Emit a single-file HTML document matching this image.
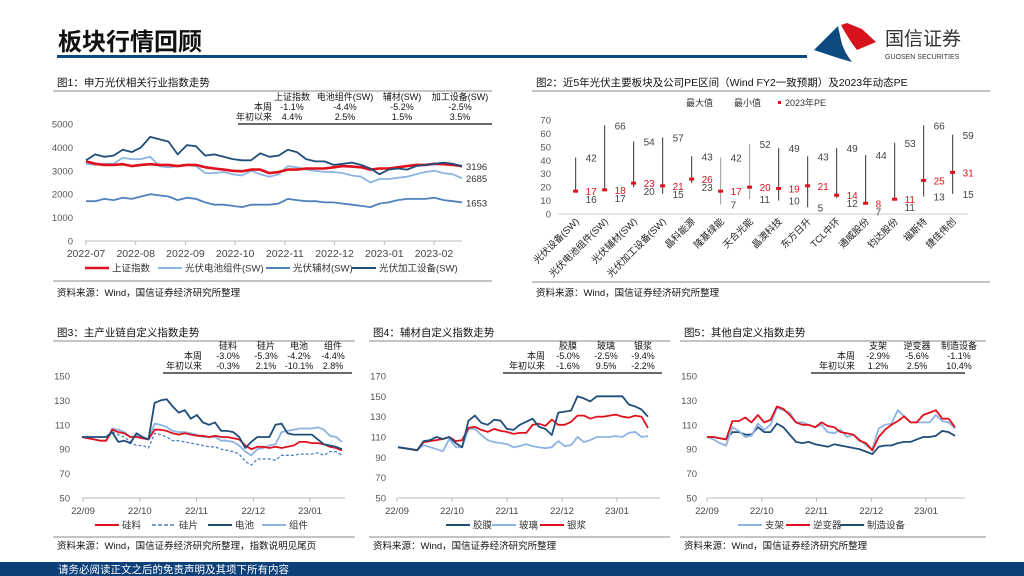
<!DOCTYPE html>
<html><head><meta charset="utf-8">
<style>
html,body{margin:0;padding:0;background:#fff;}
svg{display:block;font-family:"Liberation Sans","Noto Sans CJK SC",sans-serif;}
</style></head>
<body>
<svg id="s" width="1024" height="576" viewBox="0 0 1024 576" xmlns="http://www.w3.org/2000/svg">
<g>
<text x="58" y="50" font-size="24" font-weight="bold" fill="#111">板块行情回顾</text>
<rect x="57" y="55" width="750" height="3" fill="#0a4a7f"/>
<g>
<path d="M814,50 L838,26 Q840,36 842,44 Q845,53 852,62 L838,58 Z" fill="#0d4a80"/>
<path d="M841,25 L847,23 L862,29 L876,42 L857,50 Q849,40 841,25 Z" fill="#d7141d"/>
<text x="885" y="45" font-size="19" fill="#333">国信证券</text>
<text x="885" y="59" font-size="7" fill="#333">GUOSEN SECURITIES</text>
</g>
</g>
<rect x="0" y="562" width="1024" height="14" fill="#0d3f78"/>
<text x="58" y="573" font-size="10.5" fill="#fff">请务必阅读正文之后的免责声明及其项下所有内容</text>
</svg>
<script>
// ---- Chart 1 data ----
const c1Ticks=[0,1000,2000,3000,4000,5000];
const c1Months=['2022-07','2022-08','2022-09','2022-10','2022-11','2022-12','2023-01','2023-02'];
const c1SH=[3400,3300,3250,3250,3280,3200,3250,3280,3250,3250,3200,3250,3250,3150,3100,3050,3000,2980,3050,3050,2900,2950,3050,3050,3100,3100,3100,3150,3200,3180,3150,3050,3100,3100,3150,3200,3250,3250,3300,3280,3250,3196];
const c1Cell=[3300,3250,3300,3300,3550,3500,3500,3600,3200,3150,3200,3250,3200,2900,2900,2950,2850,2800,3000,2850,2750,2850,3200,3150,3050,3000,2950,2950,2900,2800,2750,2500,2650,2650,2700,2750,2850,2950,3000,2900,2850,2685];
const c1Aux=[1700,1700,1800,1750,1850,1800,1900,2000,1950,1900,1750,1850,1800,1650,1550,1550,1500,1450,1550,1550,1550,1600,1800,1750,1700,1700,1650,1650,1600,1550,1500,1450,1600,1650,1750,1800,1800,1800,1850,1750,1700,1653];
const c1Equip=[3450,3700,3600,3650,3900,3800,4000,4450,4350,4250,3700,4100,4050,3650,3700,3600,3500,3450,3450,3750,3600,3650,3900,3800,3500,3400,3400,3250,3300,3350,3250,3100,2850,3050,3100,3050,3200,3250,3300,3350,3300,3196];
const c1EndLabels=['3196','2685','1653'];
// ---- Chart 2 data ----
const c2Cats=['光伏设备(SW)','光伏电池组件(SW)','光伏辅材(SW)','光伏加工设备(SW)','晶科能源','隆基绿能','天合光能','晶澳科技','东方日升','TCL中环','通威股份','钧达股份','福斯特','捷佳伟创'];
const c2Max=[42,66,54,57,43,42,52,49,43,49,44,53,66,59];
const c2Min=[16,17,20,15,23,7,11,10,5,12,7,11,13,15];
const c2PE=[17,18,23,21,26,17,20,19,21,14,8,11,25,31];
const c2Ticks=[0,10,20,30,40,50,60,70];
// ---- Chart 3 data ----
const c3Ticks=[50,70,90,110,130,150];
const c3Months=['22/09','22/10','22/11','22/12','23/01'];
const c3Si=[100,99,98,97,97,106,104,103,100,100,99,98,106,106,105,103,102,103,102,101,101,100,101,100,100,99,98,93,90,92,92,91,92,91,92,93,96,96,95,95,94,92,91,89];
const c3Wafer=[100,99,98,97,97,104,102,100,96,93,93,91,103,102,100,97,97,96,95,94,93,92,92,90,89,88,86,80,77,82,82,82,81,85,85,85,86,86,86,87,85,88,88,85];
const c3Cell=[100,100,100,100,100,104,96,97,95,103,100,98,128,130,131,125,120,122,115,118,112,110,112,105,105,104,100,91,96,100,100,100,110,111,103,102,102,102,102,98,94,93,92,90];
const c3Module=[100,99,98,97,97,107,106,104,100,101,99,98,111,110,108,105,104,104,103,102,100,100,100,97,97,96,93,88,85,90,91,93,94,104,105,106,107,107,107,108,106,101,100,96];
// ---- Chart 4 data ----
const c4Ticks=[50,70,90,110,130,150,170];
const c4Film=[100,99,98,97,106,107,110,108,110,104,100,126,131,124,122,127,126,118,117,122,125,128,120,118,112,134,135,136,150,148,145,150,150,150,150,150,142,140,137,130];
const c4Glass=[100,99,98,97,102,100,98,96,108,100,100,118,118,112,107,105,104,103,100,101,103,101,100,99,100,106,101,102,110,105,107,110,110,110,111,110,114,115,110,111];
const c4Paste=[100,99,98,97,105,106,107,108,110,106,107,119,120,117,115,118,116,115,113,114,114,122,123,121,127,122,122,125,131,131,128,130,130,131,132,130,129,131,130,119];
// ---- Chart 5 data ----
const c5Ticks=[50,70,90,110,130,150];
const c5Mount=[100,98,95,93,108,105,100,101,111,106,110,124,122,120,112,112,110,108,110,104,103,106,100,102,98,93,90,107,110,111,122,117,112,112,112,112,118,113,112,107];
const c5Inv=[100,100,99,98,113,113,116,112,118,112,114,125,123,118,112,110,110,108,112,109,108,104,103,102,97,95,89,100,106,110,113,117,112,112,118,120,122,115,115,108];
const c5Mfg=[100,100,99,98,104,104,102,102,108,104,104,111,108,102,96,95,96,94,93,92,94,93,92,91,90,88,86,92,93,93,95,96,96,98,100,100,101,105,104,101];

const S=document.getElementById('s');
const NS='http://www.w3.org/2000/svg';
function el(tag,attrs,parent){const e=document.createElementNS(NS,tag);for(const k in attrs)e.setAttribute(k,attrs[k]);(parent||S).appendChild(e);return e;}
function txt(x,y,s,size,fill,anchor,parent){const t=el('text',{x:x,y:y,'font-size':size,fill:fill||'#333','text-anchor':anchor||'start'},parent);t.textContent=s;return t;}
function lin(a,b,c,d){return v=>c+(v-a)*(d-c)/(b-a);}

const RED='#e0101c',LIGHT='#8db4e2',MID='#4f81bd',DARK='#1f4e79';

function panelFrame(x0,x1,title,titleY,ruleY,srcRuleY,srcY,srcText,name){
  const g=el('g',{});
  
  
  const t=txt(x0+4,titleY,title,10.5,'#111','start',g);
  
  
  el('line',{x1:x0,x2:x1,y1:ruleY,y2:ruleY,stroke:'#888','stroke-width':1},g);
  el('line',{x1:x0,x2:x1,y1:srcRuleY,y2:srcRuleY,stroke:'#888','stroke-width':1},g);
  const s=txt(x0+4,srcY,srcText,9.5,'#111','start',g);
  
  
  return g;
}
function statTable(g,heads,colX,rows,labelX,y0,lineX0,lineX1){
  heads.forEach((h,i)=>txt(colX[i],y0,h,9,'#111','middle',g));
  rows.forEach((r,j)=>{
    txt(labelX,y0+10*(j+1),r[0],9,'#111','end',g);
    r.slice(1).forEach((v,i)=>txt(colX[i],y0+10*(j+1),v,9,'#111','middle',g));
  });
  el('line',{x1:lineX0,x2:lineX1,y1:y0+24,y2:y0+24,stroke:'#111','stroke-width':1.2},g);
}
function series(g,data,xs,ys,color,w,dash,name){
  const pts=data.map((v,i)=>xs(i).toFixed(1)+','+ys(v).toFixed(1)).join(' ');
  const p=el('polyline',{points:pts,fill:'none',stroke:color,'stroke-width':w,'stroke-linejoin':'round'},g);
  if(dash)p.setAttribute('stroke-dasharray',dash);
  
  
}
function legend(g,items,y){
  items.forEach(it=>{
    const l=el('line',{x1:it[0],x2:it[0]+24,y1:y,y2:y,stroke:it[2],'stroke-width':it[3]},g);
    if(it[4])l.setAttribute('stroke-dasharray',it[4]);
    const t=txt(it[0]+27,y+3.5,it[1],9.5,'#333','start',g);
    
    
  });
}
function lineChart(g,opt){
  const ys=lin(opt.ymin,opt.ymax,opt.yb,opt.yt);
  opt.ticks.forEach(v=>txt(opt.ylx,ys(v)+3.5,String(v),9.5,'#555','end',g));
  el('line',{x1:opt.px0,x2:opt.px1,y1:opt.yb,y2:opt.yb,stroke:'#bbb','stroke-width':1},g);
  opt.months.forEach((m,i)=>{
    const x=opt.mx[0]+i*(opt.mx[1]-opt.mx[0])/(opt.months.length-1);
    el('line',{x1:x,x2:x,y1:opt.yb,y2:opt.yb+4,stroke:'#bbb','stroke-width':1},g);
    txt(x,opt.yb+16,m,opt.mfs,'#444','middle',g);
  });
  return ys;
}

// ===== Chart 1 =====
(function(){
  const g=panelFrame(53,492,'图1：申万光伏相关行业指数走势',86,91,281,296,'资料来源：Wind，国信证券经济研究所整理','chart1');
  statTable(g,['上证指数','电池组件(SW)','辅材(SW)','加工设备(SW)'],[292,345,402,460],[['本周','-1.1%','-4.4%','-5.2%','-2.5%'],['年初以来','4.4%','2.5%','1.5%','3.5%']],272,100,238,492);
  const ys=lineChart(g,{ymin:0,ymax:5000,yb:241,yt:124,ticks:c1Ticks,ylx:73,px0:85,px1:462,months:c1Months,mx:[86,434],mfs:10.5});
  const n=c1SH.length;const xs=lin(0,n-1,86,462);
  series(g,c1Cell,xs,ys,LIGHT,1.8,null,'series-cell-module');
  series(g,c1Aux,xs,ys,MID,1.8,null,'series-auxiliary');
  series(g,c1SH,xs,ys,RED,2.6,null,'series-shanghai-index');
  series(g,c1Equip,xs,ys,DARK,1.8,null,'series-equipment');
  txt(466,ys(c1Equip[n-1])+4,c1EndLabels[0],9.5,'#333','start',g);
  txt(466,ys(c1Cell[n-1])+4,c1EndLabels[1],9.5,'#333','start',g);
  txt(466,ys(c1Aux[n-1])+4,c1EndLabels[2],9.5,'#333','start',g);
  legend(g,[[85,'上证指数',RED,2.6],[158,'光伏电池组件(SW)',LIGHT,2],[266,'光伏辅材(SW)',MID,2],[352,'光伏加工设备(SW)',DARK,2]],268);
})();

// ===== Chart 2 =====
(function(){
  const g=panelFrame(532,990,'图2：近5年光伏主要板块及公司PE区间（Wind FY2一致预期）及2023年动态PE',86,91,282,296,'资料来源：Wind，国信证券经济研究所整理','chart2');
  txt(686,106,'最大值',9,'#333','start',g);
  txt(734,106,'最小值',9,'#333','start',g);
  el('rect',{x:778,y:101,width:3,height:3,fill:RED},g);
  txt(785,106,'2023年PE',9,'#333','start',g);
  const ys=lin(0,70,214,120);
  c2Ticks.forEach(v=>txt(551,ys(v)+3.5,String(v),9.5,'#555','end',g));
  el('line',{x1:558,x2:968,y1:214,y2:214,stroke:'#ddd','stroke-width':1.5},g);
  const xs=i=>575.6+i*29.0;
  c2Cats.forEach((c,i)=>{
    const x=xs(i);
    const col=(i===5||i===6)?'#aaa':'#555';
    const r=el('line',{x1:x,x2:x,y1:ys(c2Max[i]),y2:ys(c2Min[i]),stroke:col,'stroke-width':1.2},g);
    
    
    const m=el('rect',{x:x-2.5,y:ys(c2PE[i])-1.5,width:5,height:3,fill:RED},g);
    
    
    txt(x+10,ys(c2Max[i])+4,String(c2Max[i]),10,'#444','start',g);
    txt(x+10,ys(c2PE[i])+4,String(c2PE[i]),10,RED,'start',g);
    let my=ys(c2Min[i])+4;
    if(Math.abs(c2PE[i]-c2Min[i])<6) my=Math.max(my,ys(c2PE[i])+4+(c2Min[i]<=c2PE[i]?8:-8));
    txt(x+10,my,String(c2Min[i]),10,'#444','start',g);
    const t=txt(0,0,c,9.5,'#222','end',g);
    t.setAttribute('transform','translate('+(x+4)+',222) rotate(-45)');
    
    
  });
})();

// ===== Chart 3 =====
(function(){
  const g=panelFrame(53,355,'图3：主产业链自定义指数走势',336,341,537,549,'资料来源：Wind，国信证券经济研究所整理，指数说明见尾页','chart3');
  statTable(g,['硅料','硅片','电池','组件'],[228,266,299,333],[['本周','-3.0%','-5.3%','-4.2%','-4.4%'],['年初以来','-0.3%','2.1%','-10.1%','2.8%']],202,349,163,352);
  const ys=lineChart(g,{ymin:50,ymax:150,yb:498,yt:376,ticks:c3Ticks,ylx:70,px0:82,px1:345,months:c3Months,mx:[83,310],mfs:9.5});
  const xs=lin(0,c3Si.length-1,82,342);
  series(g,c3Module,xs,ys,LIGHT,1.8,null,'series-module');
  series(g,c3Wafer,xs,ys,MID,1.3,'3,2','series-wafer');
  series(g,c3Si,xs,ys,RED,1.8,null,'series-silicon');
  series(g,c3Cell,xs,ys,DARK,1.8,null,'series-cell');
  legend(g,[[95,'硅料',RED,2],[152,'硅片',MID,1.5,'4,2'],[208,'电池',DARK,2],[262,'组件',LIGHT,2]],525);
})();

// ===== Chart 4 =====
(function(){
  const g=panelFrame(369,670,'图4：辅材自定义指数走势',336,341,537,549,'资料来源：Wind，国信证券经济研究所整理','chart4');
  statTable(g,['胶膜','玻璃','银浆'],[568,606,643],[['本周','-5.0%','-2.5%','-9.4%'],['年初以来','-1.6%','9.5%','-2.2%']],545,349,503,662);
  const ys=lineChart(g,{ymin:50,ymax:170,yb:498,yt:376,ticks:c4Ticks,ylx:386,px0:397,px1:660,months:c3Months,mx:[397,617],mfs:9.5});
  const xs=lin(0,c4Film.length-1,398,648);
  series(g,c4Glass,xs,ys,LIGHT,1.8,null,'series-glass');
  series(g,c4Paste,xs,ys,RED,1.8,null,'series-silver-paste');
  series(g,c4Film,xs,ys,DARK,1.8,null,'series-film');
  legend(g,[[446,'胶膜',DARK,2],[492,'玻璃',LIGHT,2],[540,'银浆',RED,2]],525);
})();

// ===== Chart 5 =====
(function(){
  const g=panelFrame(680,986,'图5：其他自定义指数走势',336,341,537,549,'资料来源：Wind，国信证券经济研究所整理','chart5');
  statTable(g,['支架','逆变器','制造设备'],[878,917,959],[['本周','-2.9%','-5.6%','-1.1%'],['年初以来','1.2%','2.5%','10.4%']],855,349,811,965);
  const ys=lineChart(g,{ymin:50,ymax:150,yb:498,yt:376,ticks:c5Ticks,ylx:697,px0:707,px1:965,months:c3Months,mx:[707,926],mfs:9.5});
  const xs=lin(0,c5Mount.length-1,707,955);
  series(g,c5Mfg,xs,ys,DARK,1.8,null,'series-manufacturing-equipment');
  series(g,c5Mount,xs,ys,LIGHT,1.8,null,'series-mounting');
  series(g,c5Inv,xs,ys,RED,1.8,null,'series-inverter');
  legend(g,[[738,'支架',LIGHT,2],[786,'逆变器',RED,2],[840,'制造设备',DARK,2]],525);
})();
</script>
</body></html>
